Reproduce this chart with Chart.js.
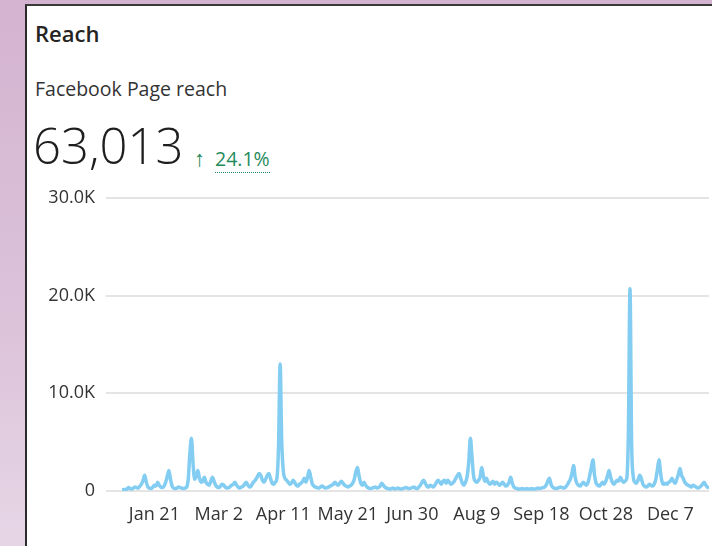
<!DOCTYPE html>
<html>
<head>
<meta charset="utf-8">
<script src="https://cdn.jsdelivr.net/npm/chart.js@4"></script>
<style>
  html, body { margin: 0; padding: 0; }
  body {
    width: 712px; height: 546px; overflow: hidden; position: relative;
    background: linear-gradient(180deg, #d4b3d0 0%, #dcc3da 60%, #e6d6e6 100%);
    font-family: "Open Sans", "Noto Sans", sans-serif;
  }
  .card {
    position: absolute; left: 25px; top: 4px; right: 0; bottom: 0;
    background: #fff;
    border-left: 2px solid #2b2b2b;
    border-top: 2px solid #3a3a3a;
  }
  .title {
    position: absolute; left: 8px; top: 12px;
    font-size: 22px; font-weight: 600; color: #252423;
  }
  .sub {
    position: absolute; left: 8px; top: 69px;
    font-size: 19.5px; color: #333;
  }
  .kpi {
    position: absolute; left: 6px; top: 106px;
    font-size: 49px; font-weight: 300; color: #1e1e1e;
  }
  .delta {
    position: absolute; left: 167px; top: 136px;
    font-size: 19.5px; color: #1f8a5c;
  }
  .delta .arr { font-size: 22px; margin-right: 10px; }
  .delta .pct { border-bottom: 1px dotted #1f8a5c; }
  #wrap { position: absolute; left: 40px; top: 176px; width: 672px; height: 370px; }
</style>
</head>
<body>
<div class="card">
  <div class="title">Reach</div>
  <div class="sub">Facebook Page reach</div>
  <div class="kpi">63,013</div>
  <div class="delta"><span class="arr">↑</span><span class="pct">24.1%</span></div>
</div>
<div id="wrap"><canvas id="reachChart" width="672" height="370"></canvas></div>
<script>
// calendar used for the day labels
let monthNames = ["Jan", "Feb", "Mar", "Apr", "May", "Jun", "Jul", "Aug", "Sep", "Oct", "Nov", "Dec"];
let monthDays = [31, 28, 31, 30, 31, 30, 31, 31, 30, 31, 30, 31];

// days (index from Jan 1) that carry an axis label
let tickDays = [20, 60, 100, 140, 180, 220, 260, 300, 340];

// daily Facebook Page reach, Jan 1 .. Dec 31
let reach = [
  120, 150, 150, 200, 350, 250, 200, 300, 400, 350,
  300, 500, 700, 1100, 1600, 900, 400, 300, 250, 400,
  600, 500, 900, 600, 400, 350, 500, 900, 1500, 2100,
  1200, 500, 300, 250, 300, 400, 350, 300, 250, 300,
  400, 1200, 3800, 5400, 2800, 1200, 1500, 2100, 1300, 900,
  1000, 1400, 900, 700, 600, 1000, 1400, 1000, 600, 400,
  350, 500, 700, 600, 400, 300, 350, 450, 600, 700,
  900, 600, 400, 300, 400, 500, 700, 900, 600, 400,
  500, 800, 1000, 1200, 1500, 1800, 1600, 1100, 900, 1200,
  1600, 1800, 1300, 800, 700, 900, 1300, 4500, 13000, 5000,
  2000, 1300, 1100, 900, 700, 800, 1100, 900, 600, 500,
  700, 800, 1000, 1300, 900, 1400, 2100, 1400, 700, 500,
  400, 350, 300, 400, 500, 400, 300, 350, 400, 500,
  600, 700, 900, 700, 600, 800, 1000, 800, 600, 500,
  400, 500, 600, 800, 1200, 2000, 2400, 1500, 800, 600,
  900, 600, 400, 300, 250, 300, 350, 400, 300, 350,
  500, 800, 600, 400, 300, 250, 200, 250, 300, 200,
  250, 300, 250, 200, 250, 300, 350, 300, 250, 300,
  350, 400, 300, 250, 400, 600, 900, 1100, 800, 500,
  400, 600, 500, 400, 600, 900, 1100, 900, 700, 1000,
  1100, 800, 1100, 900, 700, 800, 1000, 1300, 1600, 1800,
  1300, 800, 600, 900, 1500, 3000, 5400, 3500, 1500, 1000,
  900, 1100, 1400, 2400, 1600, 1000, 1300, 900, 700, 800,
  1000, 700, 900, 800, 600, 700, 900, 700, 500, 600,
  900, 1400, 800, 400, 300, 250, 200, 200, 250, 200,
  200, 250, 200, 200, 250, 200, 200, 250, 300, 250,
  300, 350, 400, 600, 1000, 1300, 700, 400, 300, 250,
  300, 350, 400, 350, 300, 400, 600, 900, 1200, 1800,
  2600, 1400, 800, 600, 500, 700, 900, 700, 600, 900,
  1600, 2400, 3200, 1600, 800, 600, 500, 700, 900, 700,
  1000, 1500, 2100, 1400, 900, 700, 900, 1100, 1000, 1400,
  1100, 900, 1000, 1300, 6000, 20700, 5000, 1500, 900, 800,
  1100, 1600, 1300, 700, 500, 400, 500, 700, 600, 500,
  700, 1200, 2200, 3200, 1800, 900, 700, 800, 700, 900,
  1000, 1300, 1000, 800, 1200, 1700, 2300, 1600, 1300, 900,
  700, 600, 500, 400, 600, 500, 400, 300, 350, 500,
  700, 900, 600, 400, 300
];

let dayLabel = (day) => {
  let m = 0;
  while (m < 11 && day >= monthDays[m]) {
    day -= monthDays[m];
    m++;
  }
  return monthNames[m] + " " + (day + 1);
};

let points = reach.map((v, i) => ({ x: i, y: v }));

var ctx = document.getElementById("reachChart").getContext("2d");
new Chart(ctx, {
  type: "line",
  data: {
    datasets: [{
      data: points,
      borderColor: "#82cdf1",
      borderWidth: 3.5,
      pointRadius: 0,
      cubicInterpolationMode: "monotone",
      fill: false
    }]
  },
  options: {
    responsive: false,
    animation: false,
    layout: { padding: { top: 13, right: 3, left: 0, bottom: 0 } },
    plugins: { legend: { display: false }, tooltip: { enabled: false } },
    scales: {
      x: {
        type: "linear",
        min: -10,
        max: 364,
        grid: { display: false, drawTicks: false },
        border: { display: false },
        afterBuildTicks: (scale) => {
          scale.ticks = tickDays.map((d) => ({ value: d }));
        },
        afterFit: (scale) => { scale.height = 55; },
        ticks: {
          autoSkip: false,
          maxRotation: 0,
          padding: 13,
          color: "#333",
          font: { family: "Open Sans", size: 18 },
          callback: (v) => dayLabel(v)
        }
      },
      y: {
        min: 0,
        max: 30000,
        grid: { color: "#e4e4e4", lineWidth: 2, drawTicks: false },
        border: { display: false },
        afterFit: (scale) => { scale.width = 66; },
        ticks: {
          stepSize: 10000,
          padding: 11,
          color: "#333",
          font: { family: "Open Sans", size: 18 },
          callback: (v) => v === 0 ? "0" : (v / 1000).toFixed(1) + "K"
        }
      }
    }
  }
});
</script>
</body>
</html>
